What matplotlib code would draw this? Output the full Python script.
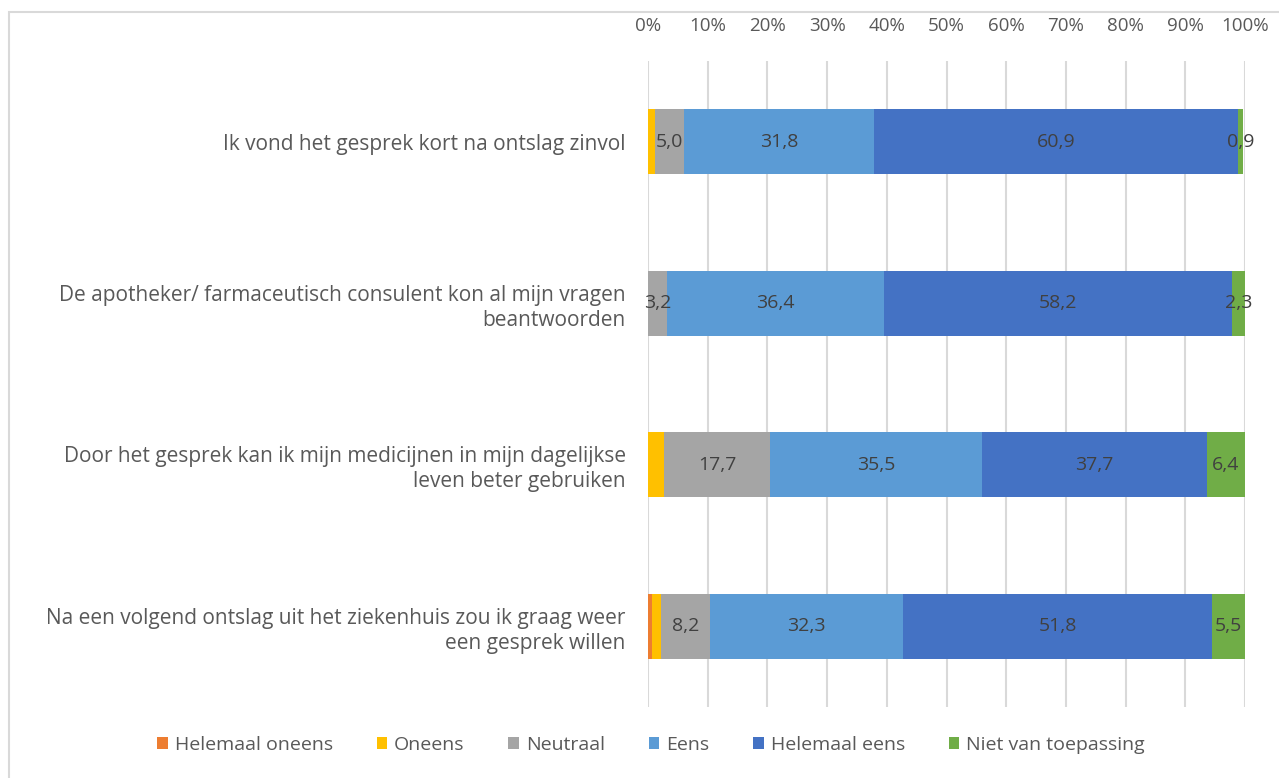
import numpy as np
import matplotlib.pyplot as plt
from matplotlib.patches import Rectangle

plt.rcParams['font.family'] = ['Open Sans', 'DejaVu Sans']

# questions, top to bottom
questions = [
    "Ik vond het gesprek kort na ontslag zinvol",
    "De apotheker/ farmaceutisch consulent kon al mijn vragen\nbeantwoorden",
    "Door het gesprek kan ik mijn medicijnen in mijn dagelijkse\nleven beter gebruiken",
    "Na een volgend ontslag uit het ziekenhuis zou ik graag weer\neen gesprek willen",
]
answers = ["Helemaal oneens", "Oneens", "Neutraal", "Eens", "Helemaal eens", "Niet van toepassing"]

helemaal_oneens = [0.0, 0.0, 0.0, 0.6]
oneens = [1.1, 0.0, 2.7, 1.6]
neutraal = [5.0, 3.2, 17.7, 8.2]
eens = [31.8, 36.4, 35.5, 32.3]
helemaal_eens = [60.9, 58.2, 37.7, 51.8]
nvt = [0.9, 2.3, 6.4, 5.5]

colors = ["#ED7D31", "#FFC000", "#A5A5A5", "#5B9BD5", "#4472C4", "#70AD47"]
show_label = [False, False, True, True, True, True]

series = [helemaal_oneens, oneens, neutraal, eens, helemaal_eens, nvt]

fig = plt.figure(figsize=(12.79, 7.78), dpi=100)
W, H = 1279, 778
ax = fig.add_axes([648 / W, 1 - 707 / H, (1245 - 648) / W, (707 - 61) / H])

# outer chart border
fig.patches.append(Rectangle((9 / W, -0.1), 1.2, 1 - 12 / H + 0.1, transform=fig.transFigure,
                             fill=False, edgecolor="#D9D9D9", linewidth=1.5))

y = np.arange(len(questions))
left = np.zeros(len(questions))
for vals, name, col, lab in zip(series, answers, colors, show_label):
    vals = np.array(vals)
    ax.barh(y, vals, left=left, height=0.4, color=col, label=name, zorder=3)
    if lab:
        for yi, (l, v) in enumerate(zip(left, vals)):
            if v > 0:
                ax.text(l + v / 2, yi, f"{v:.1f}".replace(".", ","), ha="center", va="center",
                        fontsize=14, color="#404040", zorder=4)
    left += vals

ax.set_xlim(0, 100)
ax.set_ylim(len(questions) - 0.5, -0.5)
ax.set_yticks(y)
ax.set_yticklabels(questions, fontsize=15, color="#595959", ha="right", linespacing=1.25)
ax.set_xticks(np.arange(0, 101, 10))
ax.set_xticklabels([f"{t}%" for t in range(0, 101, 10)], fontsize=13.5, color="#595959")
ax.xaxis.tick_top()
ax.tick_params(axis="both", length=0)
ax.tick_params(axis="x", pad=19)
ax.tick_params(axis="y", pad=16)
ax.grid(axis="x", color="#D9D9D9", linewidth=1.5, zorder=0)
for s in ax.spines.values():
    s.set_visible(False)

ax.legend(loc="center", bbox_to_anchor=(651 / W, 1 - 745 / H), bbox_transform=fig.transFigure,
          ncol=6, frameon=False, fontsize=14, handlelength=0.55, handleheight=0.55,
          handletextpad=0.35, columnspacing=2.25, labelcolor="#595959")

fig.savefig("out.png", dpi=100)
